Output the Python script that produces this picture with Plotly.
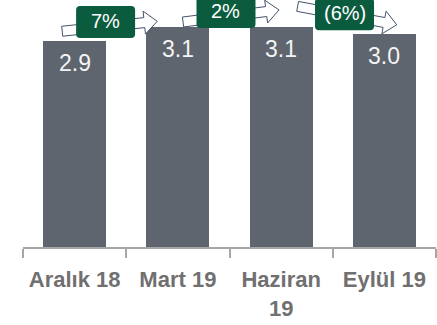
import plotly.graph_objects as go

# Quarterly values (bn) and quarter-on-quarter change labels
categories = ["Aralık 18", "Mart 19", "Haziran<br>19", "Eylül 19"]
values = [2.9, 3.1, 3.1, 3.0]
changes = ["7%", "2%", "(6%)"]

# Canvas and axis geometry
W, H = 437, 325
ML, MR, MT, MB = 23, 1, 0, 78
XR = (-0.5, 3.5)
YR = (0.0, 3.48)
PW, PH = W - ML - MR, H - MT - MB

BAR_COLOR = "#5e656e"
GREEN = "#0b5c3f"
ARROW_LINE = "#44536b"
FONT = "Liberation Sans, Arial"


def to_px(xd, yd):
    px = ML + (xd - XR[0]) / (XR[1] - XR[0]) * PW
    py = MT + (YR[1] - yd) / (YR[1] - YR[0]) * PH
    return px, py


def to_data(px, py):
    xd = XR[0] + (px - ML) / PW * (XR[1] - XR[0])
    yd = YR[1] - (py - MT) / PH * (YR[1] - YR[0])
    return xd, yd


def path_from_px(points, close=True):
    pts = [to_data(px, py) for px, py in points]
    d = "M " + " L ".join(f"{x:.5f},{y:.5f}" for x, y in pts)
    return d + (" Z" if close else "")


def block_arrow(tail, tip, shaft=5.0, head=11.5, head_len=13.0):
    (tx, ty), (hx, hy) = to_px(*tail), to_px(*tip)
    dx, dy = hx - tx, hy - ty
    n = (dx * dx + dy * dy) ** 0.5
    ux, uy = dx / n, dy / n
    nx, ny = -uy, ux
    bx, by = hx - ux * head_len, hy - uy * head_len
    pts = [
        (tx + nx * shaft, ty + ny * shaft),
        (bx + nx * shaft, by + ny * shaft),
        (bx + nx * head, by + ny * head),
        (hx, hy),
        (bx - nx * head, by - ny * head),
        (bx - nx * shaft, by - ny * shaft),
        (tx - nx * shaft, ty - ny * shaft),
    ]
    return path_from_px(pts)


def rounded_box(center, w=59.0, h=32.0, r=4.0):
    cx, cy = to_px(*center)
    x0, x1, y0, y1 = cx - w / 2, cx + w / 2, cy - h / 2, cy + h / 2
    pts = [to_data(*p) for p in [
        (x0 + r, y0), (x1 - r, y0), (x1, y0), (x1, y0 + r),
        (x1, y1 - r), (x1, y1), (x1 - r, y1), (x0 + r, y1),
        (x0, y1), (x0, y1 - r), (x0, y0 + r), (x0, y0)]]
    f = lambda p: f"{p[0]:.5f},{p[1]:.5f}"
    d = (f"M {f(pts[0])} L {f(pts[1])} Q {f(pts[2])} {f(pts[3])} "
         f"L {f(pts[4])} Q {f(pts[5])} {f(pts[6])} L {f(pts[7])} "
         f"Q {f(pts[8])} {f(pts[9])} L {f(pts[10])} Q {f(pts[11])} {f(pts[0])} Z")
    return d


xs = list(range(len(values)))

fig = go.Figure(go.Bar(
    x=xs, y=values, width=0.61,
    marker=dict(color=BAR_COLOR, line=dict(width=0)),
    hoverinfo="skip",
))

# Value labels inside the top of each bar
annotations = []
for x, v in zip(xs, values):
    annotations.append(dict(
        x=x, y=v, xref="x", yref="y", yshift=-22,
        text=f"{v:.1f}", showarrow=False,
        font=dict(family=FONT, size=23, color="#f4f4f4"),
    ))

# Arrow placement tweaks: (tail dx, tail dy) from bar i, (tip dx, tip dy) from bar i+1
arrow_offsets = [((-0.12, 0.14), (-0.20, 0.08)),
                 ((0.05, 0.07), (-0.02, 0.24)),
                 ((0.16, 0.29), (0.12, 0.13))]
# Badge placement tweaks: dx from the gap centre, dy above the taller neighbour
badge_offsets = [(-0.20, 0.07), (-0.034, 0.21), (0.114, 0.18)]

shapes = []
for i, ((tdx, tdy), (hdx, hdy)) in enumerate(arrow_offsets):
    tail = (xs[i] + tdx, values[i] + tdy)
    tip = (xs[i + 1] + hdx, values[i + 1] + hdy)
    shapes.append(dict(type="path", xref="x", yref="y", layer="above",
                       path=block_arrow(tail, tip),
                       fillcolor="white", line=dict(color=ARROW_LINE, width=1)))

for i, (label, (bdx, bdy)) in enumerate(zip(changes, badge_offsets)):
    center = ((xs[i] + xs[i + 1]) / 2 + bdx, max(values[i], values[i + 1]) + bdy)
    shapes.append(dict(type="path", xref="x", yref="y", layer="above",
                       path=rounded_box(center),
                       fillcolor=GREEN, line=dict(width=0)))
    annotations.append(dict(
        x=center[0], y=center[1], xref="x", yref="y", yshift=1,
        text=label, showarrow=False,
        font=dict(family=FONT, size=20, color="white"),
    ))

fig.update_layout(
    width=W, height=H,
    margin=dict(l=ML, r=MR, t=MT, b=MB),
    paper_bgcolor="white", plot_bgcolor="white",
    showlegend=False,
    shapes=shapes, annotations=annotations,
    bargap=0,
)
fig.update_xaxes(
    range=list(XR), tickmode="array", tickvals=xs, ticktext=categories,
    ticks="", showgrid=False, zeroline=False,
    showline=True, linecolor="#a6a6a6", linewidth=2,
    tickfont=dict(family=FONT, size=22, color="#707070", weight="bold"),
    ticklabelstandoff=12,
    minor=dict(tickmode="array", tickvals=[x - 0.5 for x in xs] + [xs[-1] + 0.5],
               ticks="outside", ticklen=9, tickwidth=2, tickcolor="#a6a6a6",
               showgrid=False),
)
fig.update_yaxes(range=list(YR), visible=False, showgrid=False, zeroline=False)

fig.write_html("out.html")
